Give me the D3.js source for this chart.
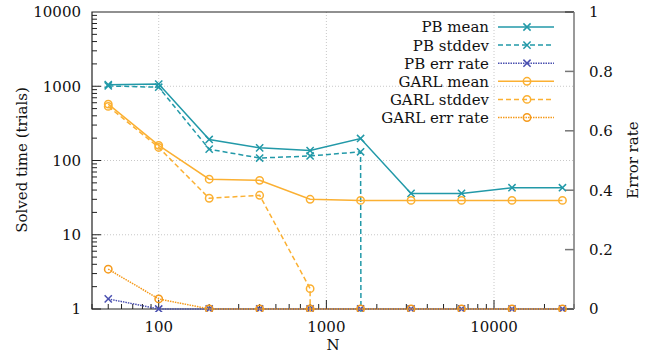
<!DOCTYPE html>
<html>
<head>
<meta charset="utf-8">
<script src="https://cdn.jsdelivr.net/npm/d3@7"></script>
<style>
  body { margin: 0; background: #fff; }
  text { font-family: "DejaVu Serif", serif; font-size: 15px; fill: #111; }
</style>
</head>
<body>
<svg id="chart" width="661" height="356"></svg>
<script>
// data
var nValues = [50, 100, 200, 400, 800, 1600, 3200, 6400, 12800, 25600];
var pbMean = [1050, 1070, 192, 148, 136, 198, 36, 36, 43, 43];
var pbStddev = [1010, 970, 142, 108, 115, 131, 0, 0, 0, 0];
var pbErr = [0.034, 0, 0, 0, 0, 0, 0, 0, 0, 0];
var garlMean = [575, 160, 56, 54, 30, 29, 29, 29, 29, 29];
var garlStddev = [535, 150, 31, 34, 1.88, 0, 0, 0, 0, 0];
var garlErr = [0.134, 0.034, 0, 0, 0, 0, 0, 0, 0, 0];

var yTicks = [1, 10, 100, 1000, 10000];
var xTicks = [100, 1000, 10000];
var y2Ticks = [0, 0.2, 0.4, 0.6, 0.8, 1];

var teal = "#2299a8", blue = "#4a50b0", amber = "#fbb032", orange = "#f59a1c";

var series = [
  { name: "PB mean", values: pbMean, color: teal, dash: null, mark: "x", axis: "y" },
  { name: "PB stddev", values: pbStddev, color: teal, dash: "5,3", mark: "x", axis: "y" },
  { name: "PB err rate", values: pbErr, color: blue, dash: "1.5,1", mark: "x", axis: "y2" },
  { name: "GARL mean", values: garlMean, color: amber, dash: null, mark: "o", axis: "y" },
  { name: "GARL stddev", values: garlStddev, color: amber, dash: "5,3", mark: "o", axis: "y" },
  { name: "GARL err rate", values: garlErr, color: orange, dash: "1.5,1", mark: "o", axis: "y2" }
];

var svg = d3.select("#chart");
var pLeft = 92, pRight = 574, pTop = 12, pBottom = 309;

var x = d3.scaleLog().domain([40, 30000]).range([pLeft, pRight]);
var y = d3.scaleLog().domain([1, 10000]).range([pBottom, pTop]);
var y2 = d3.scaleLinear().domain([0, 1]).range([pBottom, pTop]);

// grid
var grid = svg.append("g").attr("stroke", "#c8c8c8").attr("stroke-width", 1).attr("stroke-dasharray", "1,2");
xTicks.forEach(function (t) {
  grid.append("line").attr("x1", x(t)).attr("x2", x(t)).attr("y1", pTop).attr("y2", pBottom);
});
[10, 100, 1000].forEach(function (t) {
  grid.append("line").attr("x1", pLeft).attr("x2", pRight).attr("y1", y(t)).attr("y2", y(t));
});

// left axis ticks (inside)
var axisG = svg.append("g").attr("stroke", "#222").attr("stroke-width", 1);
for (var d = 1; d <= 1000; d *= 10) {
  for (var k = 1; k < 10; k++) {
    var v = d * k;
    var len = k === 1 ? 9 : 5;
    axisG.append("line").attr("x1", pLeft).attr("x2", pLeft + len).attr("y1", y(v)).attr("y2", y(v));
  }
}
// bottom axis ticks (inside)
[10, 100, 1000, 10000].forEach(function (d) {
  for (var k = 1; k < 10; k++) {
    var v = d * k;
    if (v < 40 || v > 30000) continue;
    var len = k === 1 ? 9 : 5;
    axisG.append("line").attr("x1", x(v)).attr("x2", x(v)).attr("y1", pBottom).attr("y2", pBottom - len);
  }
});
// right axis ticks
var y2G = svg.append("g").attr("stroke", "#777").attr("stroke-width", 1.5);
y2Ticks.forEach(function (t) {
  y2G.append("line").attr("x1", pRight).attr("x2", pRight - 9).attr("y1", y2(t)).attr("y2", y2(t));
});

// border
svg.append("path")
  .attr("d", "M" + pRight + "," + pTop + "H" + pLeft + "V" + pBottom + "H" + pRight)
  .attr("fill", "none").attr("stroke", "#222").attr("stroke-width", 1.2);
svg.append("line").attr("x1", pRight).attr("x2", pRight).attr("y1", pTop).attr("y2", pBottom)
  .attr("stroke", "#777").attr("stroke-width", 1.5);

// tick labels
svg.append("g").selectAll("text").data(yTicks).enter().append("text")
  .attr("x", 81).attr("y", function (d) { return y(d); }).attr("dy", "0.36em")
  .attr("text-anchor", "end").text(function (d) { return d; });
svg.append("g").selectAll("text").data(xTicks).enter().append("text")
  .attr("x", function (d) { return x(d); }).attr("y", 332)
  .attr("text-anchor", "middle").text(function (d) { return d; });
svg.append("g").selectAll("text").data(y2Ticks).enter().append("text")
  .attr("x", 589).attr("y", function (d) { return y2(d); }).attr("dy", "0.36em")
  .text(function (d) { return d; });

// axis titles
svg.append("text").attr("x", 333).attr("y", 350).attr("text-anchor", "middle").text("N");
svg.append("text").attr("transform", "translate(27,160) rotate(-90)")
  .attr("text-anchor", "middle").text("Solved time (trials)");
svg.append("text").attr("transform", "translate(638,160) rotate(-90)")
  .attr("text-anchor", "middle").text("Error rate");

// clip
svg.append("clipPath").attr("id", "plotClip").append("rect")
  .attr("x", pLeft).attr("y", pTop - 5).attr("width", pRight - pLeft).attr("height", pBottom - pTop + 8);

function yPos(s, v) {
  if (s.axis === "y2") return y2(v);
  return y(v > 0 ? v : 1e-300); // zero on a log axis drops straight off the bottom
}

function drawMark(g, s, px, py) {
  if (s.mark === "x") {
    var r = 3.6;
    g.append("path")
      .attr("d", "M" + (px - r) + "," + (py - r) + "L" + (px + r) + "," + (py + r) +
        "M" + (px - r) + "," + (py + r) + "L" + (px + r) + "," + (py - r))
      .attr("stroke", s.color).attr("stroke-width", 1.5).attr("fill", "none");
  } else {
    g.append("circle").attr("cx", px).attr("cy", py).attr("r", 3.7)
      .attr("stroke", s.color).attr("stroke-width", 1.5).attr("fill", "none");
  }
}

var plot = svg.append("g").attr("clip-path", "url(#plotClip)");
series.forEach(function (s) {
  var line = d3.line()
    .x(function (v, i) { return x(nValues[i]); })
    .y(function (v) { return yPos(s, v); });
  plot.append("path").datum(s.values).attr("d", line)
    .attr("fill", "none").attr("stroke", s.color).attr("stroke-width", 1.5)
    .attr("stroke-dasharray", s.dash);
  s.values.forEach(function (v, i) {
    if (s.axis === "y" && v <= 0) return;
    drawMark(plot, s, x(nValues[i]), yPos(s, v));
  });
});

// legend
var legend = svg.append("g");
series.forEach(function (s, i) {
  var ly = 27 + i * 18.1;
  legend.append("text").attr("x", 489).attr("y", ly).attr("dy", "0.36em")
    .attr("text-anchor", "end").text(s.name);
  legend.append("line").attr("x1", 498).attr("x2", 554).attr("y1", ly).attr("y2", ly)
    .attr("stroke", s.color).attr("stroke-width", 1.5).attr("stroke-dasharray", s.dash);
  drawMark(legend, s, 527, ly);
});
</script>
</body>
</html>
